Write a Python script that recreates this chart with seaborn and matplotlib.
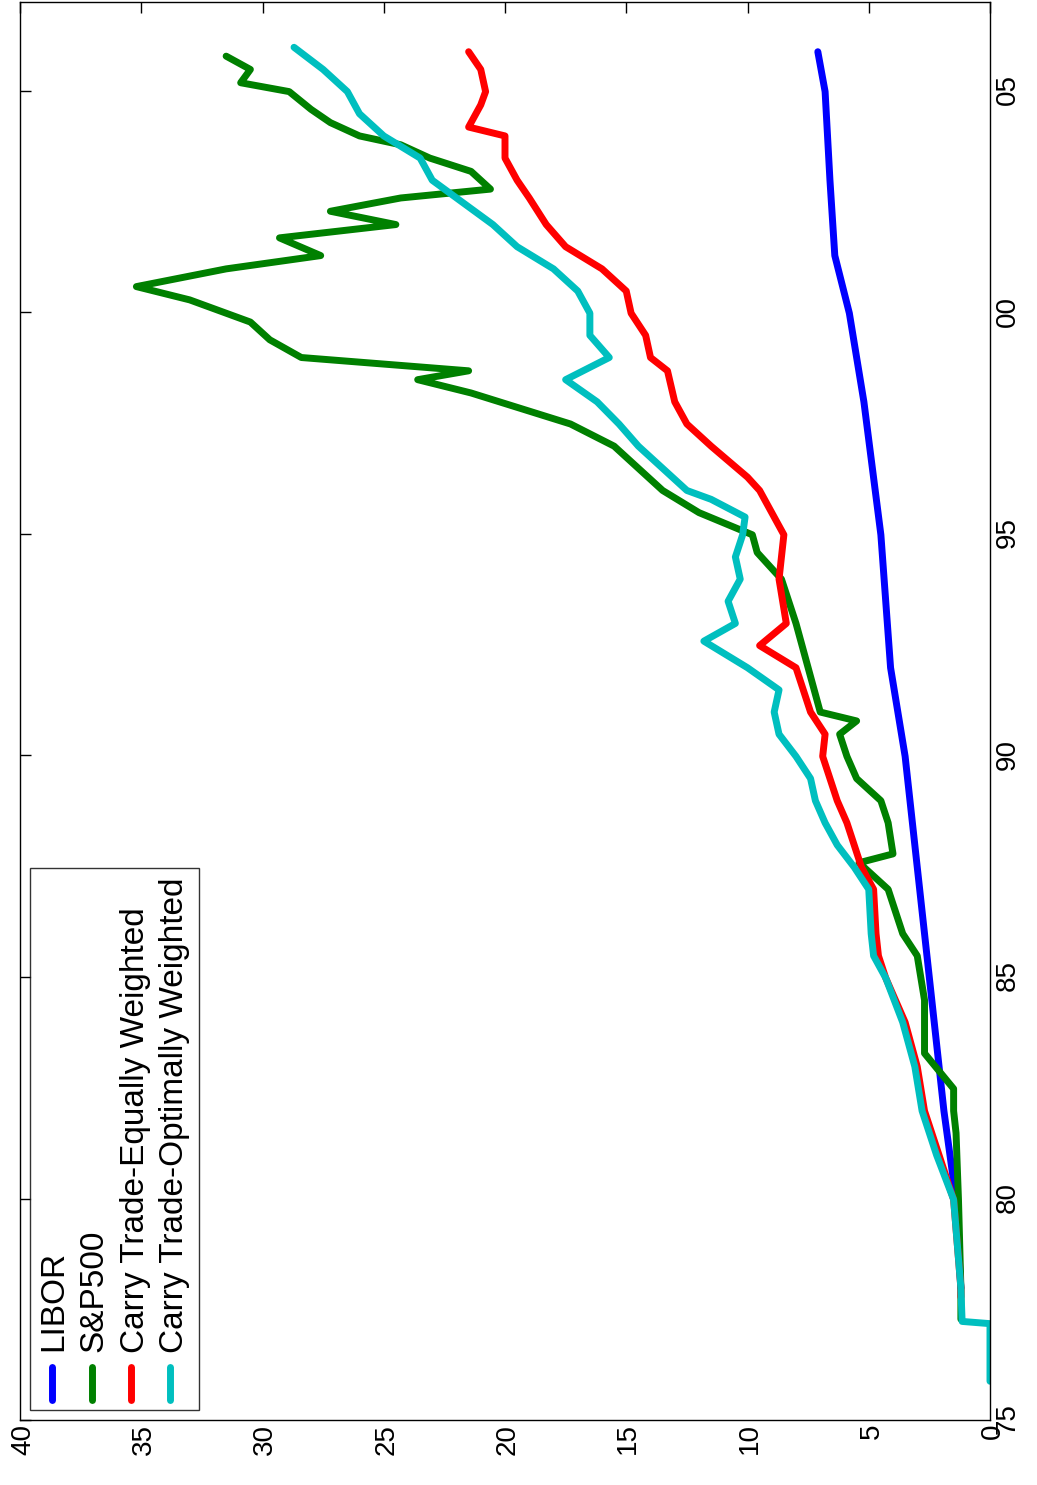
import numpy as np
import pandas as pd
import seaborn as sns
import matplotlib
matplotlib.use("Agg")
from matplotlib import pyplot as plt

libor_yr = [78, 80, 82, 85, 87, 90, 92, 95, 98, 100, 101.3, 103, 105, 105.9]
libor_val = [1.2, 1.4, 1.9, 2.5, 2.9, 3.5, 4.1, 4.5, 5.2, 5.8, 6.4, 6.6, 6.8, 7.1]

sp_yr = [77.3, 78, 80, 81.5, 82, 82.5, 83.3, 84.5, 85.5, 86, 87, 87.6, 87.8, 88.5, 89, 89.5, 90,
         90.5, 90.8, 91, 92, 93, 94, 94.6, 95, 95.5, 96, 96.5, 97, 97.5, 98.2, 98.5, 98.7, 99,
         99.4, 99.8, 100.3, 100.6, 101, 101.3, 101.7, 102, 102.3, 102.6, 102.8, 103.2, 103.5,
         103.8, 104, 104.3, 104.6, 105, 105.2, 105.5, 105.8]
sp_val = [1.2, 1.2, 1.3, 1.4, 1.5, 1.5, 2.7, 2.7, 3.0, 3.6, 4.2, 5.4, 4.0, 4.2, 4.5, 5.5, 5.9,
          6.2, 5.5, 7.0, 7.5, 8.0, 8.6, 9.6, 9.8, 12.0, 13.5, 14.5, 15.5, 17.3, 21.4, 23.6, 21.5,
          28.4, 29.7, 30.5, 33.0, 35.2, 31.5, 27.6, 29.3, 24.5, 27.2, 24.3, 20.6, 21.4, 23.1,
          24.3, 26.0, 27.2, 28.0, 28.9, 30.9, 30.5, 31.5]

ew_yr = [77.8, 78, 80, 82, 83, 84, 85, 85.5, 86, 87, 87.5, 88.5, 89, 90, 90.5, 91, 92, 92.5, 93,
         94, 95, 95.5, 96, 96.3, 97, 97.5, 98, 98.7, 99, 99.5, 100, 100.5, 101, 101.5, 102,
         102.6, 103, 103.5, 104, 104.2, 104.7, 105, 105.5, 105.9]
ew_val = [1.2, 1.2, 1.5, 2.7, 3.0, 3.5, 4.3, 4.6, 4.7, 4.8, 5.3, 5.9, 6.3, 6.9, 6.8, 7.4, 8.0,
          9.5, 8.4, 8.7, 8.5, 9.0, 9.5, 10.0, 11.5, 12.5, 13.0, 13.3, 14.0, 14.2, 14.8, 15.0,
          16.0, 17.5, 18.3, 19.0, 19.5, 20.0, 20.0, 21.5, 21.0, 20.8, 21.0, 21.5]

ow_yr = [75.9, 77.2, 77.25, 78, 80, 81, 82, 83, 84, 85, 85.5, 86, 87, 87.5, 88, 88.5, 89, 89.5,
         90, 90.5, 91, 91.5, 92, 92.6, 93, 93.5, 94, 94.5, 95, 95.4, 95.8, 96, 96.5, 97, 97.5,
         98, 98.5, 99, 99.5, 100, 100.5, 101, 101.5, 102, 102.6, 103, 103.5, 104, 104.5, 105,
         105.5, 106]
ow_val = [0, 0, 1.15, 1.2, 1.5, 2.2, 2.8, 3.1, 3.6, 4.3, 4.8, 4.9, 5.0, 5.6, 6.3, 6.8, 7.2, 7.4,
          8.0, 8.7, 8.9, 8.7, 10.0, 11.8, 10.5, 10.8, 10.3, 10.5, 10.2, 10.1, 11.5, 12.5, 13.5,
          14.5, 15.3, 16.2, 17.5, 15.7, 16.5, 16.5, 17.0, 18.0, 19.5, 20.5, 22.0, 23.0, 23.5,
          25.0, 26.0, 26.5, 27.5, 28.7]

series = [("LIBOR", libor_yr, libor_val, (0, 0, 1)),
          ("S&P500", sp_yr, sp_val, (0, 0.5, 0)),
          ("Carry Trade-Equally Weighted", ew_yr, ew_val, (1, 0, 0)),
          ("Carry Trade-Optimally Weighted", ow_yr, ow_val, (0, 0.75, 0.75))]

sns.set_style("white")
plt.rcParams["font.family"] = ["Liberation Sans", "DejaVu Sans"]
plt.rcParams["text.color"] = "black"
plt.rcParams["xtick.color"] = "black"
plt.rcParams["ytick.color"] = "black"

fig = plt.figure(figsize=(14.85, 10.37), dpi=100)
ax = fig.add_axes([0.043, 1 - 990 / 1037, 0.955, (990 - 20) / 1037])
for name, yr, val, col in series:
    df = pd.DataFrame({"yr": yr, "val": val})
    sns.lineplot(data=df, x="yr", y="val", ax=ax, color=col, linewidth=5,
                 label=name, sort=False)

ax.set_xlim(75, 107)
ax.set_ylim(0, 40)
ax.set_xticks([75, 80, 85, 90, 95, 100, 105])
ax.set_xticklabels(["75", "80", "85", "90", "95", "00", "05"], fontsize=20)
ax.set_yticks(range(0, 41, 5))
ax.set_yticklabels([str(v) for v in range(0, 41, 5)], fontsize=20)
ax.tick_params(direction="in", length=8, top=True, right=True, width=1)
ax.set_xlabel("")
ax.set_ylabel("")
for s in ax.spines.values():
    s.set_color("black")
    s.set_linewidth(1)
leg = ax.legend(loc="upper left", fontsize=24, frameon=True, fancybox=False,
                edgecolor="black", handlelength=1.0, handletextpad=0.4,
                borderpad=0.3, labelspacing=0.25, borderaxespad=0.3)
leg.get_frame().set_linewidth(1)

fig.canvas.draw()
img = np.asarray(fig.canvas.buffer_rgba())
img = np.rot90(img, k=1)
plt.imsave("out.png", np.ascontiguousarray(img))
